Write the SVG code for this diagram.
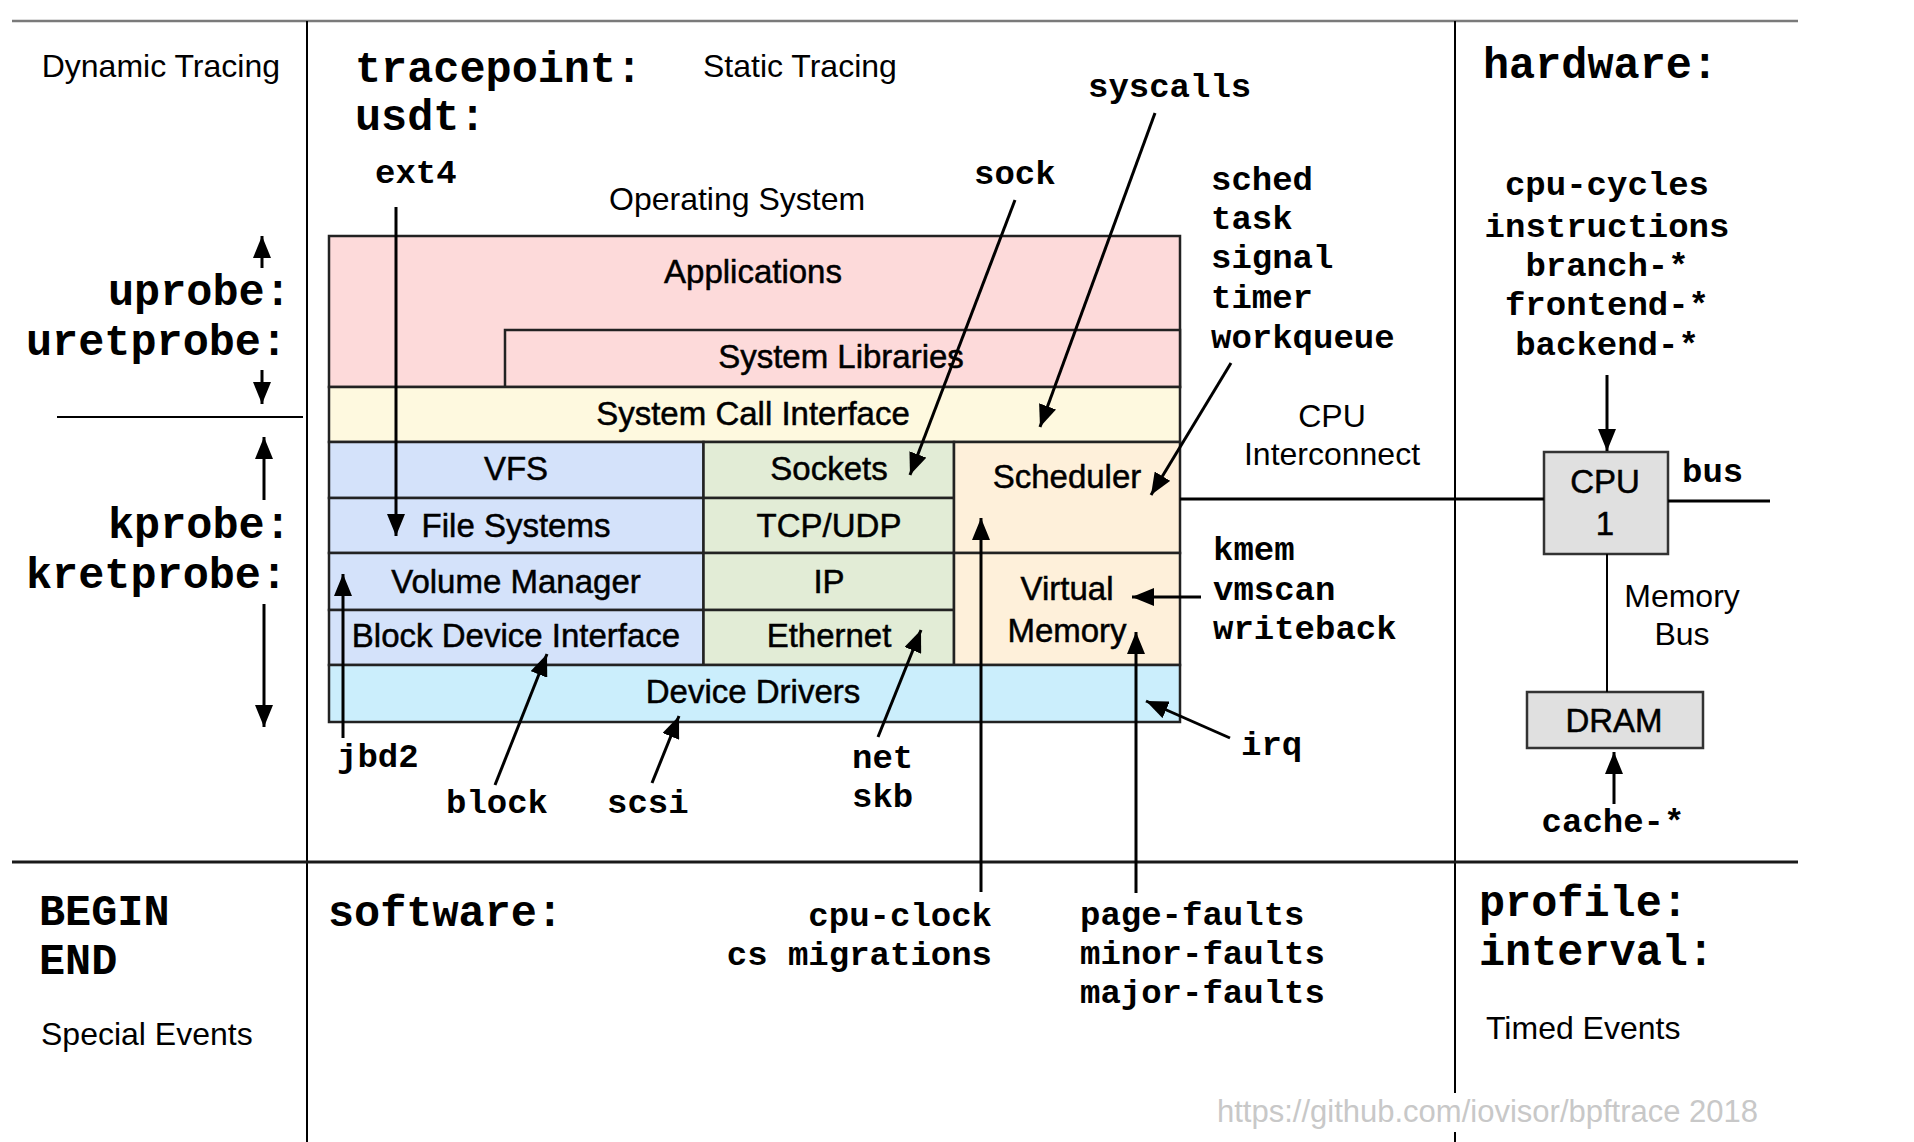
<svg xmlns="http://www.w3.org/2000/svg" width="1914" height="1142" viewBox="0 0 1914 1142">
<style>
.sans{font-family:"Liberation Sans",Arial,Helvetica,sans-serif;fill:#000}
.box{font-size:33px;stroke:#000;stroke-width:0.5}
.lbl{font-size:32px}
.mono{font-family:"Liberation Mono","Courier New",monospace;font-weight:bold;fill:#000}
.big{font-size:43.5px}
.med{font-size:34px}
.mid{text-anchor:middle}
.end{text-anchor:end}
.b{stroke:#222;stroke-width:2.5}
.grid{stroke:#000;stroke-width:2;fill:none}
.con{stroke:#000;stroke-width:3;fill:none}
.arr{stroke:#000;stroke-width:3;fill:none;marker-end:url(#ah)}
</style>
<defs>
<marker id="ah" markerUnits="userSpaceOnUse" markerWidth="24" markerHeight="18" refX="22" refY="9" orient="auto">
<path d="M0,0 L22,9 L0,18 z" fill="#000"/>
</marker>
</defs>
<rect width="1914" height="1142" fill="#fff"/>

<g id="grid">
<line x1="12" y1="21" x2="1798" y2="21" stroke="#7a7a7a" stroke-width="2.5"/>
<line class="grid" x1="307" y1="21" x2="307" y2="1142"/>
<line class="grid" x1="1455" y1="21" x2="1455" y2="1093"/>
<line class="grid" x1="1455" y1="1132" x2="1455" y2="1142"/>
<line class="grid" x1="57" y1="417" x2="303" y2="417"/>
<line x1="12" y1="862" x2="1798" y2="862" stroke="#1a1a1a" stroke-width="3"/>
</g>

<g id="left-labels">
<text class="sans lbl end" x="280" y="77" font-size="31.5">Dynamic Tracing</text>
<text class="mono big" x="108" y="305">uprobe:</text>
<text class="mono big" x="26" y="355">uretprobe:</text>
<text class="mono big" x="108" y="538">kprobe:</text>
<text class="mono big" x="26" y="588">kretprobe:</text>
<text class="mono big" x="39" y="925">BEGIN</text>
<text class="mono big" x="39" y="974">END</text>
<text class="sans lbl" x="41" y="1045">Special Events</text>
</g>

<g id="top-labels">
<text class="mono big" x="355" y="82">tracepoint:</text>
<text class="mono big" x="355" y="130">usdt:</text>
<text class="sans lbl" x="703" y="77">Static Tracing</text>
<text class="sans lbl" x="609" y="210">Operating System</text>
<text class="mono med" x="375" y="183">ext4</text>
<text class="mono med" x="974" y="184">sock</text>
<text class="mono med" x="1088" y="97">syscalls</text>
<text class="mono med" x="1211" y="190">sched</text>
<text class="mono med" x="1211" y="229">task</text>
<text class="mono med" x="1211" y="268">signal</text>
<text class="mono med" x="1211" y="308">timer</text>
<text class="mono med" x="1211" y="348">workqueue</text>
</g>

<g id="os-stack">
<g id="applications">
<rect class="b" x="329" y="236" width="851" height="151" fill="#FDDADA"/>
<text class="sans box mid" x="753" y="283">Applications</text>
</g>
<g id="system-libraries">
<rect class="b" x="505" y="330" width="675" height="57" fill="#FDDADA"/>
<text class="sans box mid" x="841" y="368">System Libraries</text>
</g>
<g id="system-call-interface">
<rect class="b" x="329" y="387" width="851" height="55" fill="#FEF9DF"/>
<text class="sans box mid" x="753" y="425">System Call Interface</text>
</g>
<g id="vfs">
<rect class="b" x="329" y="442" width="374.5" height="56" fill="#D4E2FA"/>
<text class="sans box mid" x="516" y="480">VFS</text>
</g>
<g id="file-systems">
<rect class="b" x="329" y="498" width="374.5" height="55" fill="#D4E2FA"/>
<text class="sans box mid" x="516" y="537">File Systems</text>
</g>
<g id="volume-manager">
<rect class="b" x="329" y="553" width="374.5" height="57" fill="#D4E2FA"/>
<text class="sans box mid" x="516" y="593">Volume Manager</text>
</g>
<g id="block-device-interface">
<rect class="b" x="329" y="610" width="374.5" height="55" fill="#D4E2FA"/>
<text class="sans box mid" x="516" y="647">Block Device Interface</text>
</g>
<g id="sockets">
<rect class="b" x="703.5" y="442" width="250.5" height="56" fill="#E2ECD6"/>
<text class="sans box mid" x="829" y="480">Sockets</text>
</g>
<g id="tcp-udp">
<rect class="b" x="703.5" y="498" width="250.5" height="55" fill="#E2ECD6"/>
<text class="sans box mid" x="829" y="537">TCP/UDP</text>
</g>
<g id="ip">
<rect class="b" x="703.5" y="553" width="250.5" height="57" fill="#E2ECD6"/>
<text class="sans box mid" x="829" y="593">IP</text>
</g>
<g id="ethernet">
<rect class="b" x="703.5" y="610" width="250.5" height="55" fill="#E2ECD6"/>
<text class="sans box mid" x="829" y="647">Ethernet</text>
</g>
<g id="scheduler">
<rect class="b" x="954" y="442" width="226" height="111" fill="#FEF0DA"/>
<text class="sans box mid" x="1067" y="488">Scheduler</text>
</g>
<g id="virtual-memory">
<rect class="b" x="954" y="553" width="226" height="112" fill="#FEF0DA"/>
<text class="sans box mid" x="1067" y="600">Virtual</text>
<text class="sans box mid" x="1067" y="642">Memory</text>
</g>
<g id="device-drivers">
<rect class="b" x="329" y="665" width="851" height="57" fill="#CBEEFC"/>
<text class="sans box mid" x="753" y="703">Device Drivers</text>
</g>
</g>

<g id="kernel-probe-labels">
<text class="mono med" x="1213" y="560">kmem</text>
<text class="mono med" x="1213" y="600">vmscan</text>
<text class="mono med" x="1213" y="639">writeback</text>
<text class="mono med" x="1241" y="755">irq</text>
<text class="mono med" x="337" y="767">jbd2</text>
<text class="mono med" x="446" y="813">block</text>
<text class="mono med" x="607" y="813">scsi</text>
<text class="mono med" x="852" y="768">net</text>
<text class="mono med" x="852" y="807">skb</text>
</g>

<g id="cpu-interconnect">
<text class="sans lbl mid" x="1332" y="427">CPU</text>
<text class="sans lbl mid" x="1332" y="465">Interconnect</text>
</g>

<g id="hardware">
<text class="mono big" x="1483" y="78">hardware:</text>
<text class="mono med mid" x="1607" y="195">cpu-cycles</text>
<text class="mono med mid" x="1607" y="237">instructions</text>
<text class="mono med mid" x="1607" y="276">branch-*</text>
<text class="mono med mid" x="1607" y="315">frontend-*</text>
<text class="mono med mid" x="1607" y="355">backend-*</text>
<text class="mono med" x="1682" y="482">bus</text>
<text class="sans lbl mid" x="1682" y="607">Memory</text>
<text class="sans lbl mid" x="1682" y="645">Bus</text>
<text class="mono med mid" x="1613" y="832">cache-*</text>
</g>

<g id="cpu">
<rect x="1544" y="452" width="124" height="102" fill="#E0E0E0" stroke="#333" stroke-width="2.5"/>
<text class="sans box mid" x="1605" y="493">CPU</text>
<text class="sans box mid" x="1605" y="535">1</text>
</g>

<g id="dram">
<rect x="1527" y="692" width="176" height="56" fill="#E0E0E0" stroke="#333" stroke-width="2.5"/>
<text class="sans box mid" x="1614" y="732">DRAM</text>
</g>

<g id="software">
<text class="mono big" x="328" y="926">software:</text>
<text class="mono med end" x="992" y="926">cpu-clock</text>
<text class="mono med end" x="992" y="965">cs migrations</text>
<text class="mono med" x="1080" y="925">page-faults</text>
<text class="mono med" x="1080" y="964">minor-faults</text>
<text class="mono med" x="1080" y="1003">major-faults</text>
</g>

<g id="timed">
<text class="mono big" x="1479" y="916">profile:</text>
<text class="mono big" x="1479" y="965">interval:</text>
<text class="sans lbl" x="1486" y="1039">Timed Events</text>
</g>

<text class="sans" x="1217" y="1122" font-size="31" style="fill:#C8C8C8">https://github.com/iovisor/bpftrace 2018</text>

<g id="connectors">
<line class="con" x1="1180" y1="499" x2="1544" y2="499"/>
<line class="con" x1="1668" y1="501" x2="1770" y2="501"/>
<line class="grid" x1="1607" y1="554" x2="1607" y2="692"/>
<line class="arr" x1="262" y1="268" x2="262" y2="236"/>
<line class="arr" x1="262" y1="370" x2="262" y2="404"/>
<line class="arr" x1="264" y1="500" x2="264" y2="437"/>
<line class="arr" x1="264" y1="604" x2="264" y2="727"/>
<line class="arr" x1="396" y1="207" x2="396" y2="536"/>
<line class="arr" x1="1015" y1="200" x2="910" y2="475"/>
<line class="arr" x1="1155" y1="113" x2="1040" y2="427"/>
<line class="arr" x1="1231" y1="363" x2="1151" y2="495"/>
<line class="arr" x1="1201" y1="597" x2="1132" y2="597"/>
<line class="arr" x1="1230" y1="738" x2="1146" y2="701"/>
<line class="arr" x1="1136" y1="893" x2="1136" y2="632"/>
<line class="arr" x1="981" y1="892" x2="981" y2="518"/>
<line class="arr" x1="878" y1="737" x2="921" y2="630"/>
<line class="arr" x1="652" y1="783" x2="679" y2="716"/>
<line class="arr" x1="495" y1="785" x2="547" y2="654"/>
<line class="arr" x1="343" y1="738" x2="343" y2="574"/>
<line class="arr" x1="1607" y1="375" x2="1607" y2="451"/>
<line class="arr" x1="1614" y1="804" x2="1614" y2="752"/>
</g>
</svg>
